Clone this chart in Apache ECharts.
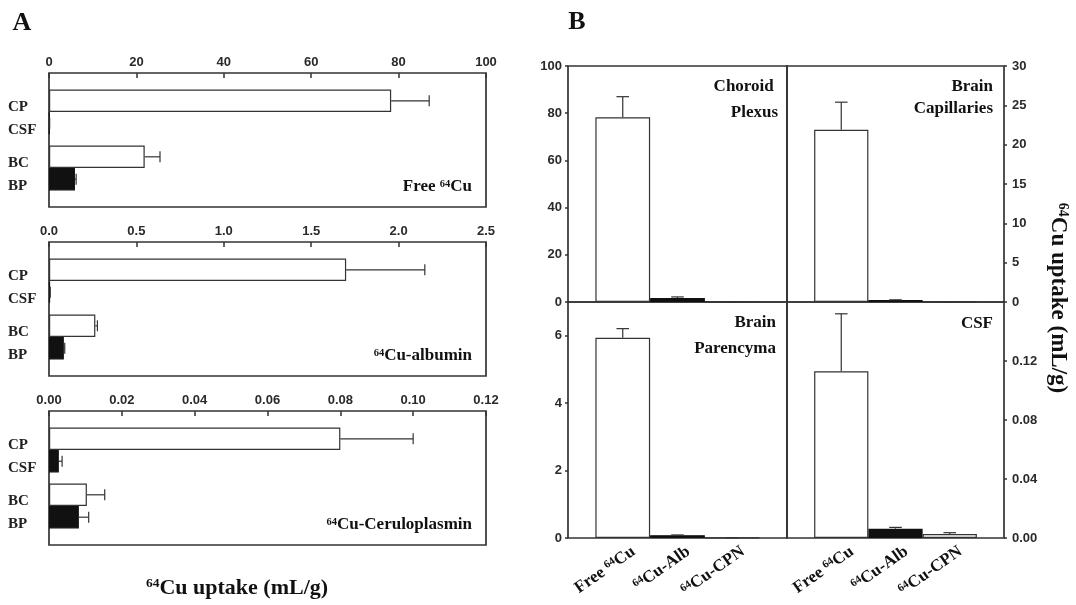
<!DOCTYPE html>
<html><head><meta charset="utf-8">
<script src="https://cdn.jsdelivr.net/npm/echarts@6/dist/echarts.min.js"></script>
<style>html,body{margin:0;padding:0;background:#fff}#c{width:1076px;height:605px}</style>
</head><body><div id="c"></div>
<script>
// ---- data ----
const tissues = ['CP', 'CSF', 'BC', 'BP'];
const tracers = ['Free 64Cu', '64Cu-Alb', '64Cu-CPN'];
const freeMean = [78.3, 0.113, 21.9, 5.94];
const freeErr  = [8.7, 0.039, 3.5, 0.27];
const albMean  = [1.70, 0.0063, 0.265, 0.085];
const albErr   = [0.45, 0.0009, 0.012, 0.005];
const cpnMean  = [0.080, 0.0027, 0.0104, 0.0082];
const cpnErr   = [0.020, 0.0009, 0.0049, 0.0027];
// panel A (one box per tracer)
const aTitles = ['Free 64Cu', '64Cu-albumin', '64Cu-Ceruloplasmin'];
const aMax = [100, 2.5, 0.12];
const aInterval = [20, 0.5, 0.02];
const aDecimals = [0, 1, 2];
// panel B (one box per tissue)
const bTitles = ['Choroid \nPlexus', 'Brain\nCapillaries', 'Brain\nParencyma', 'CSF'];
const bTissue = ['CP', 'BC', 'BP', 'CSF'];
const bMax = [100, 30, 7, 0.16];
const bInterval = [20, 5, 2, 0.04];
const bDecimals = [0, 0, 0, 2];
const axisTitle = '64Cu uptake (mL/g)';

// ---- styling / layout ----
const SERIF = '"Liberation Serif","Times New Roman",serif';
const SANS = '"Liberation Sans",Arial,sans-serif';
const LINE = '#333';
const DARK = '#111';
const FRAME_W = 1.7;
const supify = t => t.replace('64', '{s|64}');
const supRich = size => ({ s: { fontSize: size, fontFamily: SERIF, fontWeight: 'bold', color: DARK, verticalAlign: 'top', lineHeight: size } });

const grids = [], xAxes = [], yAxes = [], series = [], graphics = [];
const meansByTracer = [freeMean, albMean, cpnMean];
const errsByTracer = [freeErr, albErr, cpnErr];
const hiddenAxis = (gi, min, max) => ({ gridIndex: gi, type: 'value', min: min, max: max, show: false, axisLine: { show: false, onZero: false } });
const addGrid = g => { grids.push(Object.assign({ containLabel: false, outerBoundsMode: 'none' }, g)); return grids.length - 1; };

function errH(params, api) {
  const mean = api.value(0), cat = api.value(1), err = api.value(2), side = api.value(3);
  const bw = api.size([0, 1])[1];
  const yc = api.coord([0, cat])[1] + side * 0.2 * bw;
  const x0 = api.coord([mean, cat])[0], x1 = api.coord([mean + err, cat])[0];
  const cap = 5.5;
  return { type: 'group', children: [
    { type: 'line', shape: { x1: x0, y1: yc, x2: x1, y2: yc }, style: { stroke: LINE, lineWidth: 1.2 } },
    { type: 'line', shape: { x1: x1, y1: yc - cap, x2: x1, y2: yc + cap }, style: { stroke: LINE, lineWidth: 1.2 } }
  ]};
}
function errV(params, api) {
  const cat = api.value(0), mean = api.value(1), err = api.value(2);
  const p0 = api.coord([cat, mean]), p1 = api.coord([cat, mean + err]);
  const cap = 6.3;
  return { type: 'group', children: [
    { type: 'line', shape: { x1: p0[0], y1: p0[1], x2: p1[0], y2: p1[1] }, style: { stroke: LINE, lineWidth: 1.2 } },
    { type: 'line', shape: { x1: p1[0] - cap, y1: p1[1], x2: p1[0] + cap, y2: p1[1] }, style: { stroke: LINE, lineWidth: 1.2 } }
  ]};
}

// ---- Panel A ----
const aTops = [73, 242, 411];
const A_LEFT = 49, A_W = 437, A_H = 134, A_INSET = 11, A_LABEL_SHIFT = 6.5;
for (let p = 0; p < 3; p++) {
  const top = aTops[p];
  // frame with top value axis
  const gF = addGrid({ left: A_LEFT, top: top, width: A_W, height: A_H, show: true, borderColor: LINE, borderWidth: FRAME_W, backgroundColor: 'transparent' });
  xAxes.push({ gridIndex: gF, type: 'value', position: 'top', min: 0, max: aMax[p], interval: aInterval[p],
    axisLine: { show: false, onZero: false }, splitLine: { show: false },
    axisTick: { show: true, inside: true, length: 5, lineStyle: { color: LINE, width: 1.5 } },
    axisLabel: { margin: 4, fontFamily: SANS, fontWeight: 'bold', fontSize: 13, color: '#2a2a2a', formatter: v => v.toFixed(aDecimals[p]) } });
  yAxes.push(hiddenAxis(gF, 0, 1));
  // bars
  const gB = addGrid({ left: A_LEFT, top: top + A_INSET, width: A_W, height: A_H - 2 * A_INSET });
  const xB = xAxes.length;
  xAxes.push(hiddenAxis(gB, 0, aMax[p]));
  const yB = yAxes.length;
  yAxes.push({ gridIndex: gB, type: 'category', inverse: true, show: false, data: ['g1', 'g2'], axisLine: { onZero: false } });
  // tissue labels
  const gL = addGrid({ left: A_LEFT, top: top + A_INSET + A_LABEL_SHIFT, width: A_W, height: A_H - 2 * A_INSET });
  xAxes.push(hiddenAxis(gL, 0, 1));
  yAxes.push({ gridIndex: gL, type: 'category', inverse: true,
    data: [tissues[0] + '\n' + tissues[1], tissues[2] + '\n' + tissues[3]],
    axisLine: { show: false, onZero: false }, axisTick: { show: false },
    axisLabel: { align: 'left', margin: 41, fontFamily: SERIF, fontWeight: 'bold', fontSize: 15, color: '#222', lineHeight: 23 } });

  const m = meansByTracer[p], e = errsByTracer[p];
  series.push({ type: 'bar', xAxisIndex: xB, yAxisIndex: yB, barGap: '0%', barCategoryGap: '20%', silent: true,
    data: [m[0], m[2]], itemStyle: { color: '#fff', borderColor: LINE, borderWidth: 1.2 } });
  series.push({ type: 'bar', xAxisIndex: xB, yAxisIndex: yB, barGap: '0%', barCategoryGap: '20%', silent: true,
    data: [m[1], m[3]], itemStyle: { color: DARK, borderColor: DARK, borderWidth: 1.2 } });
  series.push({ type: 'custom', xAxisIndex: xB, yAxisIndex: yB, renderItem: errH, encode: { x: 0, y: 1 }, z: 3, silent: true,
    data: [[m[0], 0, e[0], -1], [m[1], 0, e[1], 1], [m[2], 1, e[2], -1], [m[3], 1, e[3], 1]] });
  graphics.push({ type: 'text', x: 472, y: top + A_H - 20, z: 10,
    style: { text: supify(aTitles[p]), align: 'right', verticalAlign: 'middle', fontFamily: SERIF, fontWeight: 'bold', fontSize: 17, fill: DARK, rich: supRich(10.5) } });
}
graphics.push({ type: 'text', x: 237, y: 588, z: 10,
  style: { text: supify(axisTitle), align: 'center', verticalAlign: 'middle', fontFamily: SERIF, fontWeight: 'bold', fontSize: 22, fill: DARK, rich: supRich(13.5) } });
graphics.push({ type: 'text', x: 22, y: 23, z: 10,
  style: { text: 'A', align: 'center', verticalAlign: 'middle', fontFamily: SERIF, fontWeight: 'bold', fontSize: 26, fill: DARK } });

// ---- Panel B ----
const bLeft = [568, 787, 568, 787], bTop = [66, 66, 302, 302], bW = [219, 217, 219, 217], B_H = 236, B_LABEL_SHIFT = 6;
const bTextPos = [[778, 99.7, 26], [993, 98, 22], [776, 335.7, 25.5], [993, 323.3, 20]];
for (let k = 0; k < 4; k++) {
  const t = tissues.indexOf(bTissue[k]);
  const right = (k % 2 === 1), bottom = (k >= 2);
  // frame with value axis
  const gF = addGrid({ left: bLeft[k], top: bTop[k], width: bW[k], height: B_H, show: true, borderColor: LINE, borderWidth: FRAME_W, backgroundColor: 'transparent' });
  xAxes.push(hiddenAxis(gF, 0, 1));
  yAxes.push({ gridIndex: gF, type: 'value', position: right ? 'right' : 'left', min: 0, max: bMax[k], interval: bInterval[k],
    axisLine: { show: false, onZero: false }, splitLine: { show: false },
    axisTick: { show: true, inside: false, length: 3, lineStyle: { color: LINE, width: 1.5 } },
    axisLabel: { margin: right ? 8 : 6, showMaxLabel: !bottom, fontFamily: SANS, fontWeight: 'bold', fontSize: 13, color: '#2a2a2a', formatter: v => v.toFixed(bDecimals[k]) } });

  // bars
  const inset = bW[k] / (2 * (tracers.length + 1));
  const gB = addGrid({ left: bLeft[k] + inset, top: bTop[k], width: bW[k] - 2 * inset, height: B_H });
  const xB = xAxes.length;
  xAxes.push({ gridIndex: gB, type: 'category', data: tracers, show: false, axisLine: { onZero: false } });
  const yB = yAxes.length;
  yAxes.push(hiddenAxis(gB, 0, bMax[k]));
  series.push({ type: 'bar', xAxisIndex: xB, yAxisIndex: yB, barCategoryGap: '0%', silent: true,
    data: tracers.map((_, j) => ({ value: meansByTracer[j][t], itemStyle: { color: j === 1 ? DARK : '#fff', borderColor: j === 1 ? DARK : LINE } })),
    itemStyle: { borderWidth: 1.2 } });
  series.push({ type: 'custom', xAxisIndex: xB, yAxisIndex: yB, renderItem: errV, encode: { x: 0, y: 1 }, z: 3, silent: true,
    data: tracers.map((_, j) => [j, meansByTracer[j][t], errsByTracer[j][t]]) });

  // tracer labels under the bottom row
  if (bottom) {
    const gL = addGrid({ left: bLeft[k] + inset + B_LABEL_SHIFT, top: bTop[k], width: bW[k] - 2 * inset, height: B_H });
    xAxes.push({ gridIndex: gL, type: 'category', data: tracers,
      axisLine: { show: false, onZero: false }, axisTick: { show: false },
      axisLabel: { rotate: 35, margin: 5, interval: 0, align: 'right', verticalAlign: 'top', fontFamily: SERIF, fontWeight: 'bold', fontSize: 17, color: DARK, formatter: supify, rich: supRich(11) } });
    yAxes.push(hiddenAxis(gL, 0, 1));
  }
  graphics.push({ type: 'text', x: bTextPos[k][0], y: bTextPos[k][1], z: 10,
    style: { text: bTitles[k], align: 'right', verticalAlign: 'middle', fontFamily: SERIF, fontWeight: 'bold', fontSize: 17, lineHeight: bTextPos[k][2], fill: DARK } });
}
graphics.push({ type: 'text', x: 1058, y: 298, rotation: -Math.PI / 2, z: 10,
  style: { text: supify(axisTitle), align: 'center', verticalAlign: 'middle', fontFamily: SERIF, fontWeight: 'bold', fontSize: 23, fill: DARK, rich: supRich(14) } });
graphics.push({ type: 'text', x: 577, y: 22, z: 10,
  style: { text: 'B', align: 'center', verticalAlign: 'middle', fontFamily: SERIF, fontWeight: 'bold', fontSize: 26, fill: DARK } });

const chart = echarts.init(document.getElementById('c'), null, { renderer: 'canvas' });
chart.setOption({
  animation: false,
  backgroundColor: '#fff',
  grid: grids, xAxis: xAxes, yAxis: yAxes, series: series,
  graphic: { elements: graphics }
});
</script></body></html>
